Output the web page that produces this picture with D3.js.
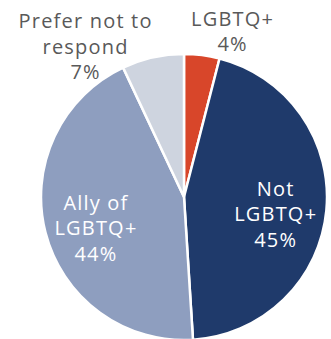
<!DOCTYPE html>
<html>
<head>
<meta charset="utf-8">
<script src="https://cdn.jsdelivr.net/npm/d3@7"></script>
<style>
  html, body { margin: 0; padding: 0; background: #fff; }
  text { font-family: "Open Sans", sans-serif; font-weight: 400; letter-spacing: 1.2px; }
</style>
</head>
<body>
<div id="chart"></div>
<script>
'use strict';

// slice data, clockwise from 12 o'clock
const categories = ["LGBTQ+", "Not LGBTQ+", "Ally of LGBTQ+", "Prefer not to respond"];
const values = [4, 45, 44, 7];
const colors = ["#d8462a", "#1f3a6b", "#8e9ebf", "#ced4df"];
const labelLines = [
    ["LGBTQ+", "4%"],
    ["Not", "LGBTQ+", "45%"],
    ["Ally of", "LGBTQ+", "44%"],
    ["Prefer not to", "respond", "7%"]
];

const width = 331, height = 339;
const cx = 184, cy = 197, radius = 143;
const lineHeight = 25.5;

const svg = d3.select("#chart")
    .append("svg")
    .attr("width", width)
    .attr("height", height);

const g = svg.append("g")
    .attr("transform", "translate(" + cx + "," + cy + ")");

const pie = d3.pie()
    .sort(null)
    .value(d => d.value);

const arc = d3.arc()
    .innerRadius(0)
    .outerRadius(radius);

const data = categories.map((c, i) => ({ name: c, value: values[i], color: colors[i], lines: labelLines[i] }));
const arcs = pie(data);

g.selectAll(".slice")
    .data(arcs)
    .enter()
    .append("path")
    .attr("class", "slice")
    .attr("d", arc)
    .attr("fill", d => d.data.color)
    .attr("stroke", "#fff")
    .attr("stroke-width", 2.5)
    .attr("stroke-linejoin", "round");

// inside labels sit on a smaller arc, small slices get their label above the pie
const labelArc = d3.arc().innerRadius(radius * 0.64).outerRadius(radius * 0.64);
const outsidePos = {
    "LGBTQ+": [232 - cx, 25.5 - cy],
    "Prefer not to respond": [85 - cx, 28 - cy]
};

arcs.forEach(a => {
    const outside = outsidePos[a.data.name];
    let x, yTop, fill;
    if (outside) {
        x = outside[0];
        yTop = outside[1];
        fill = "#595959";
    } else {
        const c = labelArc.centroid(a);
        x = c[0];
        yTop = c[1] - (a.data.lines.length - 1) * lineHeight / 2 + 15.5;
        fill = "#fff";
    }
    const t = g.append("text")
        .attr("text-anchor", "middle")
        .attr("fill", fill)
        .style("font-size", "20px");
    a.data.lines.forEach((line, i) => {
        t.append("tspan")
            .attr("x", x + 0.6)
            .attr("y", yTop + i * lineHeight)
            .text(line);
    });
});
</script>
</body>
</html>
